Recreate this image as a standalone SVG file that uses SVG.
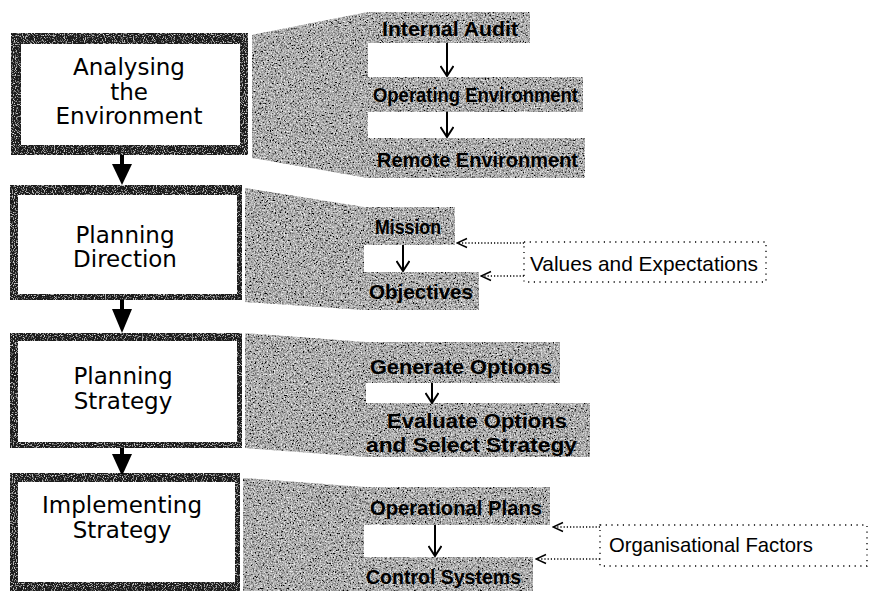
<svg xmlns="http://www.w3.org/2000/svg" width="870" height="591" viewBox="0 0 870 591">
<style>
.frame{fill:#1e1e1e}
.inner{fill:#ffffff}
.shade{fill:#b8b8b8}
.big{font-family:"DejaVu Sans",sans-serif;font-size:23px;fill:#000;text-anchor:middle}
.item{font-family:"Liberation Sans",Arial,sans-serif;font-weight:bold;font-size:20.5px;fill:#000}
.ext{font-family:"Liberation Sans",Arial,sans-serif;font-size:21px;fill:#000}
.dotbox{fill:none;stroke:#000;stroke-width:1.3;stroke-dasharray:1.2 4.5}
.thin{stroke:#000;stroke-width:2;fill:none}
.dotline{stroke:#000;stroke-width:1.3;fill:none;stroke-dasharray:1.2 2}
.shaft{stroke:#000;stroke-width:4;fill:none}
.tri{fill:#000}
</style>
<defs>
<filter id="grain" x="0" y="0" width="1" height="1">
<feTurbulence type="fractalNoise" baseFrequency="0.6" numOctaves="2" seed="7" result="n"/>
<feColorMatrix in="n" type="matrix" values="0 0 0 0 0  0 0 0 0 0  0 0 0 0 0  -3.4 0 0 0 1.95" result="d"/>
<feComposite in="d" in2="SourceAlpha" operator="in" result="dots"/>
<feTurbulence type="fractalNoise" baseFrequency="0.7" numOctaves="1" seed="19" result="n2"/>
<feColorMatrix in="n2" type="matrix" values="0 0 0 0 1  0 0 0 0 1  0 0 0 0 1  3.4 0 0 0 -1.75" result="w"/>
<feComposite in="w" in2="SourceAlpha" operator="in" result="whites"/>
<feMerge><feMergeNode in="SourceGraphic"/><feMergeNode in="dots"/><feMergeNode in="whites"/></feMerge>
</filter>
<filter id="grainLight" x="0" y="0" width="1" height="1">
<feTurbulence type="fractalNoise" baseFrequency="0.9" numOctaves="1" seed="3" result="n"/>
<feColorMatrix in="n" type="matrix" values="0 0 0 0 1  0 0 0 0 1  0 0 0 0 1  3 0 0 0 -1.6" result="d"/>
<feComposite in="d" in2="SourceAlpha" operator="in" result="dots"/>
<feMerge><feMergeNode in="SourceGraphic"/><feMergeNode in="dots"/></feMerge>
</filter>
<marker id="vhead" viewBox="0 0 12 14" refX="11" refY="7" markerWidth="12" markerHeight="14" markerUnits="userSpaceOnUse" orient="auto">
<path d="M1,0.5 L11,7 L1,13.5" fill="none" stroke="#000" stroke-width="2"/>
</marker>
<marker id="ohead" viewBox="0 0 12 12" refX="11" refY="6" markerWidth="12" markerHeight="12" markerUnits="userSpaceOnUse" orient="auto">
<path d="M1,1.5 L11,6 L1,10.5" fill="none" stroke="#000" stroke-width="1.5" stroke-dasharray="none"/>
</marker>
</defs>
<rect width="870" height="591" fill="#fff"/>

<!-- shaded regions -->
<g id="shade-analysing" filter="url(#grain)">
<polygon class="shade" points="252,35 368,12 368,178 252,158"/>
<rect class="shade" x="368" y="12" width="162" height="31"/>
<rect class="shade" x="368" y="77" width="215" height="35"/>
<rect class="shade" x="368" y="138" width="217" height="40"/>
</g>
<g id="shade-direction" filter="url(#grain)">
<polygon class="shade" points="245,188 364,207 364,310 245,302"/>
<rect class="shade" x="363" y="207" width="92" height="38"/>
<rect class="shade" x="363" y="272" width="116" height="38"/>
</g>
<g id="shade-strategy" filter="url(#grain)">
<polygon class="shade" points="245,333 366,342 366,457 245,448"/>
<rect class="shade" x="365" y="342" width="195" height="41"/>
<rect class="shade" x="365" y="403" width="225" height="54"/>
</g>
<g id="shade-implementing" filter="url(#grain)">
<polygon class="shade" points="243,478 364,487 364,591 243,591"/>
<rect class="shade" x="363" y="487" width="187" height="38"/>
<rect class="shade" x="363" y="557" width="170" height="34"/>
</g>

<!-- main nodes -->
<g id="analysing">
<rect class="frame" x="11" y="33" width="237" height="122" filter="url(#grainLight)"/>
<rect class="inner" x="21" y="44" width="219" height="101"/>
<text class="big" x="129" y="75">Analysing</text>
<text class="big" x="129" y="100">the</text>
<text class="big" x="129" y="124">Environment</text>
</g>
<g id="planning-direction">
<rect class="frame" x="10" y="185" width="232" height="115" filter="url(#grainLight)"/>
<rect class="inner" x="18" y="195" width="219" height="99"/>
<text class="big" x="125" y="243">Planning</text>
<text class="big" x="125" y="267">Direction</text>
</g>
<g id="planning-strategy">
<rect class="frame" x="10" y="333" width="232" height="115" filter="url(#grainLight)"/>
<rect class="inner" x="18" y="341" width="219" height="101"/>
<text class="big" x="123" y="384">Planning</text>
<text class="big" x="123" y="409">Strategy</text>
</g>
<g id="implementing-strategy">
<rect class="frame" x="10" y="473" width="230" height="118" filter="url(#grainLight)"/>
<rect class="inner" x="18" y="482" width="217" height="100"/>
<text class="big" x="122" y="513">Implementing</text>
<text class="big" x="122" y="538">Strategy</text>
</g>

<!-- item nodes -->
<g id="internal-audit"><text class="item" x="382" y="36" textLength="136" lengthAdjust="spacingAndGlyphs">Internal Audit</text></g>
<g id="operating-environment"><text class="item" x="373" y="102" textLength="205" lengthAdjust="spacingAndGlyphs">Operating Environment</text></g>
<g id="remote-environment"><text class="item" x="377" y="167" textLength="201" lengthAdjust="spacingAndGlyphs">Remote Environment</text></g>
<g id="mission"><text class="item" x="375" y="234" textLength="66" lengthAdjust="spacingAndGlyphs">Mission</text></g>
<g id="objectives"><text class="item" x="369" y="299" textLength="104" lengthAdjust="spacingAndGlyphs">Objectives</text></g>
<g id="generate-options"><text class="item" x="370" y="374" textLength="182" lengthAdjust="spacingAndGlyphs">Generate Options</text></g>
<g id="evaluate-options">
<text class="item" x="387" y="428" textLength="180" lengthAdjust="spacingAndGlyphs">Evaluate Options</text>
<text class="item" x="366" y="452" textLength="211" lengthAdjust="spacingAndGlyphs">and Select Strategy</text>
</g>
<g id="operational-plans"><text class="item" x="370" y="515" textLength="172" lengthAdjust="spacingAndGlyphs">Operational Plans</text></g>
<g id="control-systems"><text class="item" x="366" y="584" textLength="155" lengthAdjust="spacingAndGlyphs">Control Systems</text></g>

<g id="values-expectations">
<rect class="dotbox" x="524" y="242" width="242" height="40"/>
<text class="ext" x="530" y="271" textLength="228" lengthAdjust="spacingAndGlyphs">Values and Expectations</text>
</g>
<g id="organisational-factors">
<rect class="dotbox" x="600" y="525" width="267" height="41"/>
<text class="ext" x="609" y="552" textLength="204" lengthAdjust="spacingAndGlyphs">Organisational Factors</text>
</g>

<!-- connectors -->
<g id="connectors">
<line class="shaft" x1="122" y1="155" x2="122" y2="166"/>
<polygon class="tri" points="112,164 132,164 122,185"/>
<line class="shaft" x1="122" y1="300" x2="122" y2="312"/>
<polygon class="tri" points="112,309 132,309 122,333"/>
<line class="shaft" x1="122" y1="448" x2="122" y2="456"/>
<polygon class="tri" points="112,454 132,454 122,476"/>

<line class="thin" x1="447" y1="43" x2="447" y2="76" marker-end="url(#vhead)"/>
<line class="thin" x1="447" y1="112" x2="447" y2="137" marker-end="url(#vhead)"/>
<line class="thin" x1="403" y1="245" x2="403" y2="271" marker-end="url(#vhead)"/>
<line class="thin" x1="432" y1="383" x2="432" y2="403" marker-end="url(#vhead)"/>
<line class="thin" x1="435" y1="525" x2="435" y2="556" marker-end="url(#vhead)"/>

<line class="dotline" x1="524" y1="243" x2="457" y2="243" marker-end="url(#ohead)"/>
<line class="dotline" x1="524" y1="276" x2="481" y2="276" marker-end="url(#ohead)"/>
<line class="dotline" x1="600" y1="527" x2="553" y2="527" marker-end="url(#ohead)"/>
<line class="dotline" x1="600" y1="559" x2="536" y2="559" marker-end="url(#ohead)"/>
</g>
</svg>
